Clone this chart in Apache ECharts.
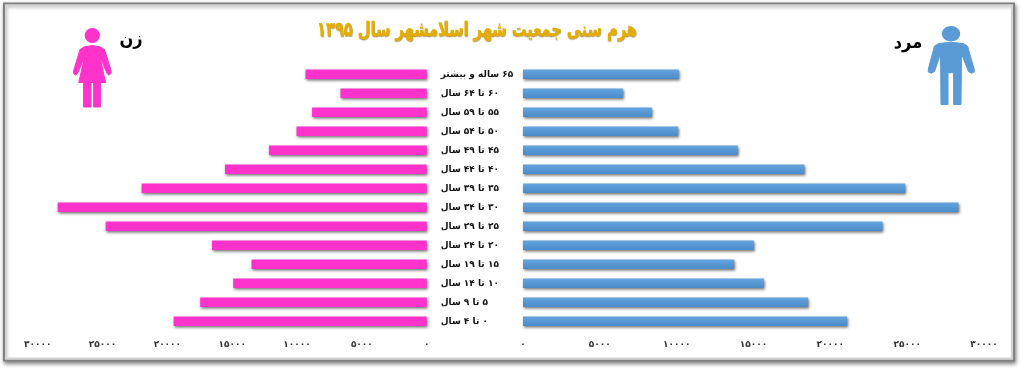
<!DOCTYPE html>
<html dir="rtl"><head><meta charset="utf-8">
<style>html,body{margin:0;padding:0;background:#fff}#c{width:1024px;height:370px}</style>
<script src="https://cdn.jsdelivr.net/npm/echarts@6/dist/echarts.min.js"></script>
</head><body><div id="c"></div>
<script>
var titleText = 'هرم سنی جمعیت شهر اسلامشهر سال ۱۳۹۵';
var femaleLabel = 'زن';
var maleLabel = 'مرد';
var categories = ['۶۵ ساله و بیشتر','۶۰ تا ۶۴ سال','۵۵ تا ۵۹ سال','۵۰ تا ۵۴ سال','۴۵ تا ۴۹ سال','۴۰ تا ۴۴ سال','۳۵ تا ۳۹ سال','۳۰ تا ۳۴ سال','۲۵ تا ۲۹ سال','۲۰ تا ۲۴ سال','۱۵ تا ۱۹ سال','۱۰ تا ۱۴ سال','۵ تا ۹ سال','۰ تا ۴ سال'];
var female = [9350,6650,8840,10040,12170,15560,21990,28460,24760,16560,13510,14920,17470,19520];
var male = [10140,6510,8380,10090,13980,18310,24870,28340,23390,15020,13740,15670,18550,21090];
var FONT = '"DejaVu Sans"';
function fa(v){return String(v).replace(/\d/g,function(d){return '۰۱۲۳۴۵۶۷۸۹'[+d];});}
var chart = echarts.init(document.getElementById('c'),null,{renderer:'canvas'});
var valueLabel = {fontFamily:FONT,fontSize:9,fontWeight:'bold',color:'#333',margin:9,formatter:fa,hideOverlap:false,showMinLabel:true,showMaxLabel:true};
var pink = '#ff33cc';
var male_c = '#5b9bd5';
var blue = new echarts.graphic.LinearGradient(0,0,0,1,[{offset:0,color:'#64a5e0'},{offset:1,color:'#4a8ac8'}]);
var shadow = {shadowColor:'rgba(0,0,0,0.55)',shadowBlur:3,shadowOffsetX:1,shadowOffsetY:1.5};
var femaleIcon = [[80,49.5],[84,47],[92.3,45.5],[100.5,47],[104.5,49.5],[111,70.5],[111,73.5],[109,75],[107,73.5],[100,56.5],[105.5,82.5],[100.4,82.5],[100.4,107],[93.6,107],[93.6,82.5],[91,82.5],[91,107],[83.6,107],[83.6,82.5],[78.8,82.5],[84.6,56.5],[77.6,73.5],[75.6,75],[73.6,73.5],[73.6,70.5]];
var maleIcon = [[934.5,46],[939,43.5],[951,42.3],[963,43.5],[967.5,46],[974.2,69],[974.2,72],[971.5,73.3],[968.5,71.5],[961.5,54],[961,104.5],[953.6,104.5],[953.6,72.7],[948,72.7],[948,104.5],[941,104.5],[940.5,54],[934.5,71.5],[931.5,73.3],[928.3,72],[928.3,69]];
chart.setOption({
  animation:false,
  backgroundColor:'#fff',
  grid:[{left:37.7,width:389,top:64.8,height:266},{left:523,width:461,top:64.8,height:266}],
  xAxis:[
    {type:'value',gridIndex:0,inverse:true,min:0,max:30000,interval:5000,axisLine:{show:false},axisTick:{show:false},splitLine:{show:false},axisLabel:valueLabel},
    {type:'value',gridIndex:1,min:0,max:30000,interval:5000,axisLine:{show:false},axisTick:{show:false},splitLine:{show:false},axisLabel:valueLabel}
  ],
  yAxis:[
    {type:'category',gridIndex:0,inverse:true,position:'right',data:categories,axisLine:{show:false},axisTick:{show:false},
      axisLabel:{fontFamily:FONT,fontSize:9,fontWeight:'bold',color:'#111',align:'left',margin:14,interval:0}},
    {type:'category',gridIndex:1,inverse:true,data:categories,axisLine:{show:false},axisTick:{show:false},axisLabel:{show:false}}
  ],
  series:[
    {name:femaleLabel,type:'bar',xAxisIndex:0,yAxisIndex:0,data:female,barWidth:9.5,itemStyle:Object.assign({color:pink},shadow)},
    {name:maleLabel,type:'bar',xAxisIndex:1,yAxisIndex:1,data:male,barWidth:9.5,itemStyle:Object.assign({color:blue},shadow)}
  ],
  graphic:[
    {type:'rect',shape:{x:4,y:3.5,width:1010,height:357},z:-1,style:{fill:'#fff',stroke:'#808080',lineWidth:2,shadowColor:'rgba(0,0,0,0.45)',shadowBlur:4,shadowOffsetX:1,shadowOffsetY:2}},
    {type:'rect',shape:{x:6,y:5.5,width:1006,height:353},z:-1,style:{fill:'none',stroke:'#d4d4d4',lineWidth:2}},
    {type:'text',x:477,y:31,scaleX:0.73,style:{text:titleText,fontFamily:FONT,fontSize:20,fontWeight:'bold',fill:'#e5ac00',stroke:'#e5ac00',lineWidth:0.4,align:'center',verticalAlign:'middle',textShadowColor:'rgba(120,90,0,0.45)',textShadowBlur:1,textShadowOffsetX:0.5,textShadowOffsetY:1}},
    {type:'circle',shape:{cx:92.3,cy:35.5,r:7.6},style:{fill:pink}},
    {type:'polygon',shape:{points:femaleIcon},style:{fill:pink,stroke:pink,lineWidth:1,lineJoin:'round'}},
    {type:'ellipse',shape:{cx:951,cy:33.7,rx:9.2,ry:7.7},style:{fill:male_c}},
    {type:'polygon',shape:{points:maleIcon},style:{fill:male_c,stroke:male_c,lineWidth:1,lineJoin:'round'}},
    {type:'text',x:131,y:40.5,scaleX:0.9,style:{text:femaleLabel,fontFamily:FONT,fontSize:18,fontWeight:'bold',fill:'#000',align:'center',verticalAlign:'middle'}},
    {type:'text',x:908,y:43,scaleX:0.9,style:{text:maleLabel,fontFamily:FONT,fontSize:18,fontWeight:'bold',fill:'#000',align:'center',verticalAlign:'middle'}}
  ]
});
</script></body></html>
